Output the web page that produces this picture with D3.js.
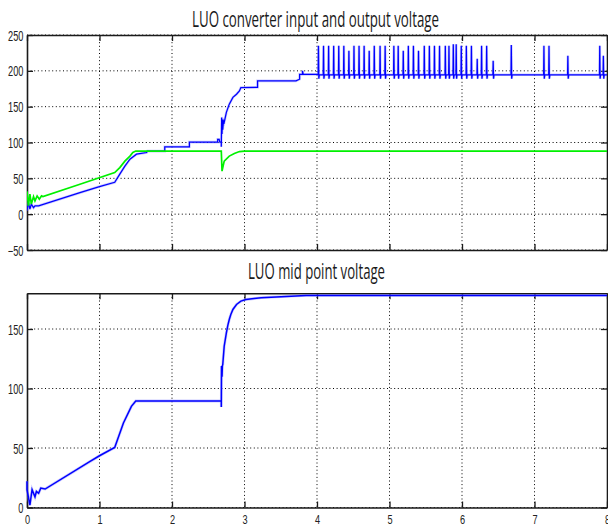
<!DOCTYPE html>
<html>
<head>
<meta charset="utf-8">
<script src="https://cdn.jsdelivr.net/npm/d3@7"></script>
<style>
  html, body { margin: 0; padding: 0; background: #fff; }
  svg { display: block; }
</style>
</head>
<body>
<svg id="chart" width="608" height="527"></svg>
<script>
// ---------- DATA ----------
const topTitle = "LUO converter input and output voltage";
const bottomTitle = "LUO mid point voltage";

const xTicks = [0, 1, 2, 3, 4, 5, 6, 7, 8];
const topYTicks = [-50, 0, 50, 100, 150, 200, 250];
const bottomYTicks = [0, 50, 100, 150];

// Green trace (top)
const greenT = [0, 0.02, 0.04, 0.06, 0.09, 0.11, 0.14, 0.17, 0.2, 0.22, 0.73, 1.21, 1.28, 1.35, 1.42, 1.46, 1.5, 2.68, 2.69, 2.72, 2.79, 2.86, 2.93, 3.0, 8];
const greenV = [32, 12, 28, 14, 24.5, 18.5, 25.5, 21, 25.5, 24.5, 41.8, 58, 65, 74, 81, 86, 88, 88, 60, 74, 81, 84.6, 87.4, 88, 88];

// Blue trace (top) up to t = 4
const blueT = [0, 0.02, 0.04, 0.06, 0.09, 0.11, 0.16, 0.73, 1.0, 1.21, 1.28, 1.35, 1.42, 1.51, 1.65, 1.66, 1.9, 1.9, 2.24, 2.24, 2.63, 2.63, 2.65, 2.66, 2.68, 2.68, 2.685, 2.69, 2.695, 2.70, 2.71, 2.72, 2.75, 2.79, 2.84, 2.89, 2.93, 2.95, 3.18, 3.18, 3.71, 3.76, 3.76, 3.8, 3.8, 3.81, 3.95, 4.0];
const blueV = [5, 16, 7, 14, 9, 11.6, 11.6, 30, 38.5, 44.5, 55.8, 67, 76.7, 83.7, 86, 88, 88, 94, 94, 100.5, 100.5, 104.5, 104.5, 100.5, 100.5, 94, 135, 112, 132, 118, 130, 128, 142, 153.5, 163, 167.4, 172, 176.7, 177, 186, 186, 188.3, 195, 195, 200, 195, 195, 195];

// Blue trace (top) after t = 4: base level with spikes
const blueBase = 194.5;
const blueDip = 189;
const blueEnd = 8;
const spikeT = [4.02, 4.09, 4.16, 4.23, 4.30, 4.37, 4.44, 4.51, 4.58, 4.65, 4.72, 4.79, 4.87, 4.94, 5.06, 5.12, 5.19, 5.26, 5.33, 5.40, 5.48, 5.55, 5.62, 5.69, 5.77, 5.82, 5.88, 5.92, 5.99, 6.06, 6.13, 6.21, 6.27, 6.34, 6.43, 6.68, 7.13, 7.20, 7.46, 7.90, 7.95];
const spikeV = [235, 235, 235, 235, 235, 235, 228, 235, 235, 235, 228, 235, 235, 235, 235, 235, 228, 235, 235, 228, 235, 235, 235, 235, 235, 235, 237, 237, 235, 235, 235, 217, 235, 235, 214, 236, 235, 235, 221, 235, 221];

// Mid point voltage (bottom)
const midT = [0, 0, 0.04, 0.07, 0.11, 0.13, 0.16, 0.19, 0.25, 0.87, 1.0, 1.21, 1.33, 1.44, 1.5, 2.68, 2.68, 2.683, 2.69, 2.695, 2.70, 2.72, 2.75, 2.77, 2.79, 2.81, 2.84, 2.89, 2.95, 3.02, 3.23, 3.85, 8];
const midV = [22, 15, 2, 15, 9, 13.5, 12, 16.3, 15.5, 38.7, 43.5, 50.5, 71, 85, 89.5, 89.5, 84.5, 119, 110, 119, 120, 135.5, 146.8, 153, 158, 162, 166.4, 170.6, 173.4, 174.8, 176.3, 178.2, 178.2];

// ---------- DRAW ----------
const svg = d3.select("#chart");
const X0 = 27, X1 = 607;
const xScale = d3.scaleLinear().domain([0, 8]).range([X0, X1]);

const yTop = d3.scaleLinear().domain([-50, 250]).range([250, 35]);
const yBot = d3.scaleLinear().domain([0, 180]).range([507.5, 293.3]);

const zip = (t, v) => t.map((d, i) => [d, v[i]]);

// Build blue spike sequence from spike arrays
const blueTail = [];
spikeT.forEach((t, i) => {
  blueTail.push([t - 0.004, blueBase]);
  blueTail.push([t, spikeV[i]]);
  blueTail.push([t + 0.005, blueDip]);
  blueTail.push([t + 0.012, blueBase]);
});
blueTail.push([blueEnd, blueBase]);

function panel(y, yTicks, showXLabels, title, titleY, titleX0, titleX1) {
  const g = svg.append("g");
  const [yb, yt] = y.range();

  // gridlines
  g.append("g").selectAll("line").data(xTicks.slice(1, -1)).join("line")
    .attr("x1", d => xScale(d)).attr("x2", d => xScale(d))
    .attr("y1", yt).attr("y2", yb)
    .attr("stroke", "#000").attr("stroke-width", 1)
    .attr("stroke-dasharray", "1,2.6");
  g.append("g").selectAll("line").data(yTicks).join("line")
    .attr("x1", X0).attr("x2", X1)
    .attr("y1", d => y(d)).attr("y2", d => y(d))
    .attr("stroke", "#000").attr("stroke-width", 1)
    .attr("stroke-dasharray", "1,2.6");

  // axes
  const left = g.append("g").attr("transform", `translate(${X0},0)`)
    .call(d3.axisLeft(y).tickValues(yTicks).tickSize(-6).tickSizeOuter(0).tickFormat(d3.format("d")));
  const right = g.append("g").attr("transform", `translate(${X1},0)`)
    .call(d3.axisRight(y).tickValues(yTicks).tickSize(-6).tickSizeOuter(0).tickFormat(""));
  const top = g.append("g").attr("transform", `translate(0,${yt})`)
    .call(d3.axisTop(xScale).tickValues(xTicks).tickSize(-6).tickSizeOuter(0).tickFormat(""));
  const bottom = g.append("g").attr("transform", `translate(0,${yb})`)
    .call(d3.axisBottom(xScale).tickValues(xTicks).tickSize(-6).tickSizeOuter(0)
      .tickFormat(showXLabels ? d3.format("d") : ""));

  [left, right, top, bottom].forEach(a => {
    a.select(".domain").attr("stroke", "#1a1a1a").attr("stroke-width", 1.6);
    a.selectAll(".tick line").attr("stroke", "#1a1a1a").attr("stroke-width", 1.3);
    a.selectAll("text").attr("fill", "#222")
      .style("font-family", "'Liberation Sans', Arial, sans-serif").style("font-size", "14px");
  });
  left.selectAll("text").attr("x", null).attr("dy", "0.36em")
    .attr("transform", "translate(-3.5,0) scale(0.66,1)");
  if (showXLabels) {
    bottom.selectAll("text").attr("y", null).attr("dy", null)
      .style("font-size", "13.5px")
      .attr("transform", "translate(0,16.3) scale(0.68,1)");
  }

  // title
  svg.append("text").attr("x", titleX0).attr("y", titleY)
    .attr("textLength", titleX1 - titleX0).attr("lengthAdjust", "spacingAndGlyphs")
    .style("font-family", "'Open Sans', 'Noto Sans', sans-serif").style("font-size", "21px")
    .attr("fill", "#1a1a1a").text(title);
  return g;
}

const gTop = panel(yTop, topYTicks, false, topTitle, 27, 192, 439);
const gBot = panel(yBot, bottomYTicks, true, bottomTitle, 279, 248, 385);

const lineTop = d3.line().x(d => xScale(d[0])).y(d => yTop(d[1]));
const lineBot = d3.line().x(d => xScale(d[0])).y(d => yBot(d[1]));

svg.append("clipPath").attr("id", "ct").append("rect")
  .attr("x", X0).attr("y", 35).attr("width", X1 - X0).attr("height", 215);

const plotTop = svg.append("g").attr("clip-path", "url(#ct)");
const blueAll = zip(blueT, blueV).concat(blueTail);

plotTop.append("path").datum(blueAll).attr("d", lineTop)
  .attr("fill", "none").attr("stroke", "#8c8cff").attr("stroke-width", 2.6).attr("stroke-opacity", 0.45);
plotTop.append("path").datum(blueAll).attr("d", lineTop)
  .attr("fill", "none").attr("stroke", "#0000ff").attr("stroke-width", 1.25);
plotTop.append("path").datum(zip(greenT, greenV)).attr("d", lineTop)
  .attr("fill", "none").attr("stroke", "#00f000").attr("stroke-width", 1.7);

const plotBot = svg.append("g");
plotBot.append("path").datum(zip(midT, midV)).attr("d", lineBot)
  .attr("fill", "none").attr("stroke", "#8c8cff").attr("stroke-width", 2.8).attr("stroke-opacity", 0.45);
plotBot.append("path").datum(zip(midT, midV)).attr("d", lineBot)
  .attr("fill", "none").attr("stroke", "#0000ff").attr("stroke-width", 1.5);
</script>
</body>
</html>
